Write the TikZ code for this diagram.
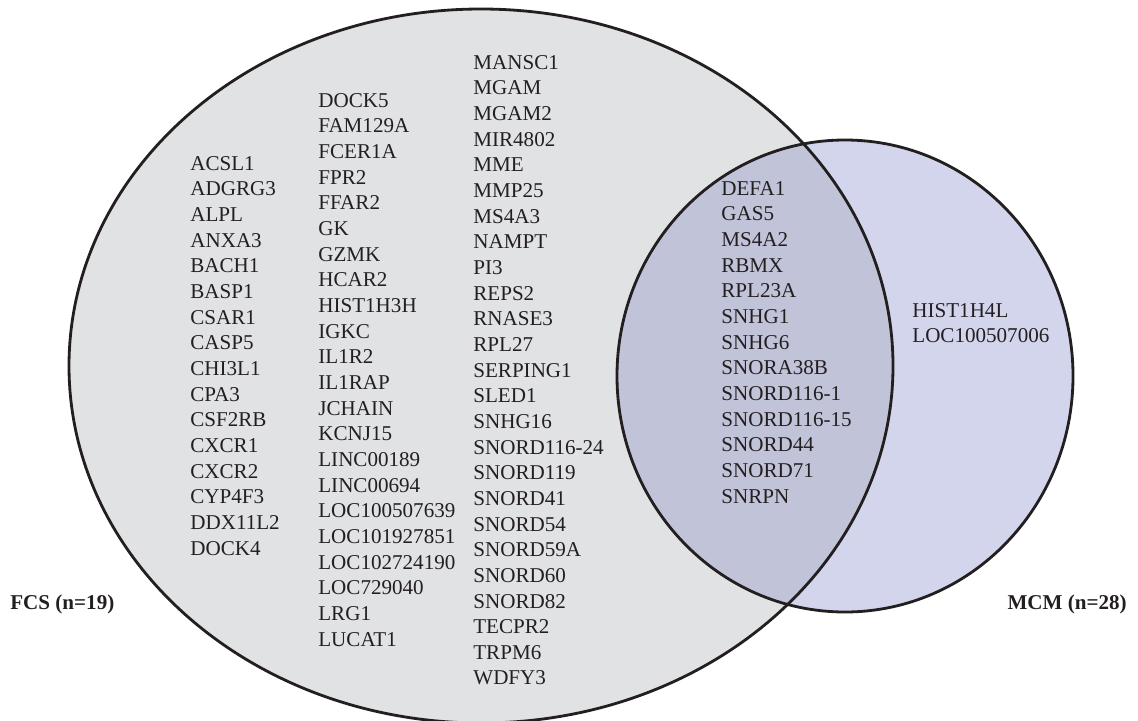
\documentclass[tikz,border=0pt]{standalone}
\usepackage{fontspec}
\setmainfont{Liberation Serif}
\usepackage{xcolor}
\usepackage{tikz}
\usetikzlibrary{positioning, calc}
\definecolor{FCSGray}{RGB}{225,226,228}
\definecolor{MCMLilac}{RGB}{211,213,236}
\definecolor{BothBlue}{RGB}{193,195,217}
\definecolor{TextGray}{RGB}{35,31,32}
\tikzset{
    genelist/.style={
        anchor=north west, inner sep=0pt, align=left, text=TextGray,
        font=\fontsize{12}{14.6}\selectfont
    },
    setlabel/.style={
        inner sep=0pt, text=TextGray, font=\fontsize{12}{14}\selectfont\bfseries
    },
    setring/.style={
        draw=TextGray, line width=1.6pt
    }
}

\begin{document}
\begin{tikzpicture}[x=0.02cm, y=-0.02cm]
    \useasboundingbox (0,0) rectangle (1138,720);

    % --- CÁC TẬP HỢP ---
    \fill[FCSGray] (481,366) ellipse [x radius=412, y radius=357];
    \fill[MCMLilac] (845,376) ellipse [x radius=228, y radius=236];
    \begin{scope}
        \clip (481,366) ellipse [x radius=412, y radius=357];
        \fill[BothBlue] (845,376) ellipse [x radius=228, y radius=236];
    \end{scope}
    \draw[setring] (481,366) ellipse [x radius=412, y radius=357];
    \draw[setring] (845,376) ellipse [x radius=228, y radius=236];

    % --- DANH SÁCH GEN ---
    \node[genelist] (colA) at (190,156) {ACSL1\\ADGRG3\\ALPL\\ANXA3\\BACH1\\BASP1\\CSAR1\\CASP5\\CHI3L1\\CPA3\\CSF2RB\\CXCR1\\CXCR2\\CYP4F3\\DDX11L2\\DOCK4};
    \node[genelist] (colB) at (318,93) {DOCK5\\FAM129A\\FCER1A\\FPR2\\FFAR2\\GK\\GZMK\\HCAR2\\HIST1H3H\\IGKC\\IL1R2\\IL1RAP\\JCHAIN\\KCNJ15\\LINC00189\\LINC00694\\LOC100507639\\LOC101927851\\LOC102724190\\LOC729040\\LRG1\\LUCAT1};
    \node[genelist] (colC) at (473,55) {MANSC1\\MGAM\\MGAM2\\MIR4802\\MME\\MMP25\\MS4A3\\NAMPT\\PI3\\REPS2\\RNASE3\\RPL27\\SERPING1\\SLED1\\SNHG16\\SNORD116-24\\SNORD119\\SNORD41\\SNORD54\\SNORD59A\\SNORD60\\SNORD82\\TECPR2\\TRPM6\\WDFY3};
    \node[genelist] (colD) at (721,181) {DEFA1\\GAS5\\MS4A2\\RBMX\\RPL23A\\SNHG1\\SNHG6\\SNORA38B\\SNORD116-1\\SNORD116-15\\SNORD44\\SNORD71\\SNRPN};
    \node[genelist] (colE) at (912,303) {HIST1H4L\\LOC100507006};

    % --- NHÃN ---
    \node[setlabel, anchor=west] (fcs) at (10,604) {FCS (n=19)};
    \node[setlabel, anchor=east] (mcm) at (1127,604) {MCM (n=28)};

\end{tikzpicture}
\end{document}
